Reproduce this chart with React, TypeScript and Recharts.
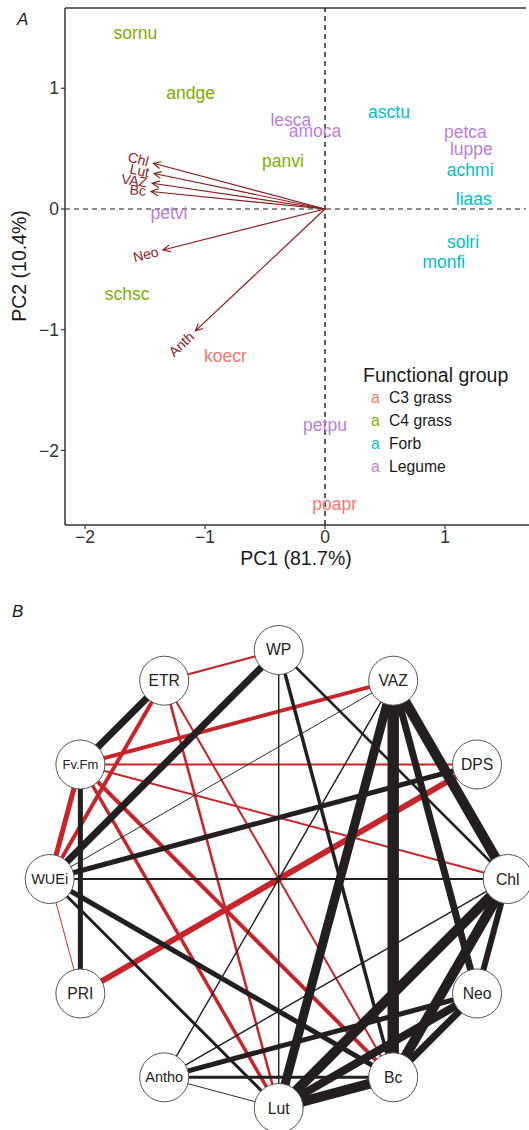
import React from 'react';
import { ScatterChart, Scatter, XAxis, YAxis, ReferenceLine, Legend, Label } from 'recharts';

const FONT = '"Liberation Sans", Arial, Helvetica, sans-serif';

// ---------- Panel A data ----------
const speciesNames = ['sornu', 'andge', 'lesca', 'amoca', 'panvi', 'asctu', 'petca', 'luppe', 'achmi', 'liaas', 'solri', 'monfi', 'petvi', 'schsc', 'koecr', 'petpu', 'poapr'];
const speciesPC1 = [-1.58, -1.12, -0.285, -0.083, -0.35, 0.533, 1.17, 1.22, 1.21, 1.24, 1.15, 0.99, -1.3, -1.65, -0.83, 0.0, 0.08];
const speciesPC2 = [1.46, 0.965, 0.737, 0.646, 0.4, 0.806, 0.64, 0.497, 0.323, 0.083, -0.27, -0.44, -0.03, -0.7, -1.22, -1.79, -2.44];
const speciesGroup = ['C4 grass', 'C4 grass', 'Legume', 'Legume', 'C4 grass', 'Forb', 'Legume', 'Legume', 'Forb', 'Forb', 'Forb', 'Forb', 'Legume', 'C4 grass', 'C3 grass', 'Legume', 'C3 grass'];

const groupNames = ['C3 grass', 'C4 grass', 'Forb', 'Legume'];
const groupColors = ['#F8766D', '#7CAE00', '#00BFC4', '#B87FD8'];

const loadingNames = ['Chl', 'Lut', 'VAZ', 'Bc', 'Neo', 'Anth'];
const loadingPC1 = [-1.43, -1.425, -1.44, -1.45, -1.35, -1.08];
const loadingPC2 = [0.379, 0.294, 0.213, 0.145, -0.34, -1.01];

const xTicksA = [-2, -1, 0, 1];
const yTicksA = [-2, -1, 0, 1];

// ---------- Panel B data ----------
const nodeNames = ['WP', 'VAZ', 'DPS', 'Chl', 'Neo', 'Bc', 'Lut', 'Antho', 'PRI', 'WUEi', 'Fv.Fm', 'ETR'];
const nodeX = [0, 0.5, 0.866, 1, 0.866, 0.5, 0, -0.5, -0.866, -1, -0.866, -0.5];
const nodeY = [1, 0.866, 0.5, 0, -0.5, -0.866, -1, -0.866, -0.5, 0, 0.5, 0.866];

const edgeFrom = ['ETR', 'WP', 'ETR', 'ETR', 'ETR', 'ETR', 'WP', 'WP', 'WP', 'VAZ', 'VAZ', 'VAZ', 'VAZ', 'VAZ', 'VAZ', 'VAZ', 'Fv.Fm', 'Fv.Fm', 'Fv.Fm', 'Fv.Fm', 'Fv.Fm', 'Fv.Fm', 'WUEi', 'DPS', 'WUEi', 'WUEi', 'WUEi', 'WUEi', 'Chl', 'Chl', 'Chl', 'Chl', 'Neo', 'Neo', 'Neo', 'Antho', 'Antho', 'Lut'];
const edgeTo = ['WP', 'WUEi', 'Fv.Fm', 'WUEi', 'Lut', 'Bc', 'Lut', 'Bc', 'Chl', 'Fv.Fm', 'WUEi', 'Antho', 'Lut', 'Bc', 'Neo', 'Chl', 'DPS', 'Chl', 'WUEi', 'PRI', 'Lut', 'Bc', 'DPS', 'PRI', 'Chl', 'PRI', 'Bc', 'Lut', 'Antho', 'Lut', 'Bc', 'Neo', 'Antho', 'Lut', 'Bc', 'Bc', 'Lut', 'Bc'];
const edgeWeight = [-0.17, 0.58, 0.58, -0.33, -0.21, -0.17, 0.12, 0.29, 0.21, -0.33, 0.08, 0.12, 0.75, 0.95, 0.58, 0.85, -0.17, -0.17, -0.42, 0.42, -0.29, -0.33, 0.42, -0.5, 0.17, -0.08, 0.42, 0.25, 0.12, 0.83, 0.83, 0.5, 0.42, 0.67, 0.58, 0.25, 0.08, 0.83];

// ---------- Layout constants ----------
const A_W = 529;
const A_H = 575;
const A_TOP = 8;
const A_YAXIS_W = 65;
const A_XAXIS_H = 50;
const xDomA: [number, number] = [-2.167, 1.7];
const yDomA: [number, number] = [-2.618, 1.665];
const KX = (A_W - A_YAXIS_W) / (xDomA[1] - xDomA[0]);
const KY = (A_H - A_TOP - A_XAXIS_H) / (yDomA[1] - yDomA[0]);

const B_TOP = 590;
const B_W = 529;
const B_H = 540;
const xDomB: [number, number] = [-1.217, 1.093];
const yDomB: [number, number] = [-1.096, 1.262];

const ARROW_COLOR = '#8b1c1c';
const RED = '#c8242b';
const BLACK = '#231f20';

const fmtMinus = (v: number) => String(v).replace('-', '\u2212');

const SpeciesLabel = (color: string) => (props: any) => {
  const { cx, cy, payload } = props;
  if (cx == null || cy == null) return <g />;
  return (
    <text x={cx} y={cy} dy="0.35em" textAnchor="middle" fill={color} fontSize={17.5} fontFamily={FONT}>
      {payload.name}
    </text>
  );
};

const ArrowTip = (props: any) => {
  const { cx, cy, payload } = props;
  if (!payload || !payload.tip || cx == null) return <g />;
  const dx = payload.x * KX;
  const dy = -payload.y * KY;
  const len = Math.hypot(dx, dy);
  const ux = dx / len;
  const uy = dy / len;
  const ang = Math.atan2(dy, dx);
  const head = 8;
  const spread = Math.PI / 7;
  const back = ang + Math.PI;
  const p1x = cx + head * Math.cos(back + spread);
  const p1y = cy + head * Math.sin(back + spread);
  const p2x = cx + head * Math.cos(back - spread);
  const p2y = cy + head * Math.sin(back - spread);
  let rot = (ang * 180) / Math.PI + 180;
  while (rot > 90) rot -= 360;
  while (rot <= -90) rot += 360;
  const lx = cx + ux * 5;
  const ly = cy + uy * 5;
  return (
    <g>
      <path d={`M${p1x},${p1y}L${cx},${cy}L${p2x},${p2y}`} fill="none" stroke={ARROW_COLOR} strokeWidth={1.2} />
      <text
        x={lx}
        y={ly}
        dy="0.35em"
        textAnchor="end"
        transform={`rotate(${rot} ${lx} ${ly})`}
        fill={ARROW_COLOR}
        fontSize={14}
        fontFamily={FONT}
      >
        {payload.name}
      </text>
    </g>
  );
};

const LegendBox = () => (
  <div style={{ fontFamily: FONT, color: '#1a1a1a' }}>
    <div style={{ fontSize: 19.5, lineHeight: '24px', whiteSpace: 'nowrap' }}>Functional group</div>
    {groupNames.map((g, i) => (
      <div key={g} style={{ display: 'flex', alignItems: 'center', height: 22.8, fontSize: 15.7, whiteSpace: 'nowrap' }}>
        <span style={{ color: groupColors[i], width: 18, marginLeft: 8, display: 'inline-block' }}>a</span>
        <span>{g}</span>
      </div>
    ))}
  </div>
);

const Empty = () => <g />;

const NodeShape = (props: any) => {
  const { cx, cy, payload } = props;
  if (cx == null) return <g />;
  const name: string = payload.name;
  const fs = name.includes('.') ? 13 : name.length >= 4 ? 14.5 : 15.7;
  return (
    <g>
      <circle cx={cx} cy={cy} r={24.5} fill="#ffffff" stroke="#555555" strokeWidth={1} />
      <text x={cx} y={cy} dy="0.35em" textAnchor="middle" fontSize={fs} fontFamily={FONT} fill="#222222">
        {name}
      </text>
    </g>
  );
};

function PanelA() {
  const byGroup = groupNames.map((g) =>
    speciesNames
      .map((name, i) => ({ name, x: speciesPC1[i], y: speciesPC2[i], group: speciesGroup[i] }))
      .filter((d) => d.group === g)
  );
  const arrows = loadingNames.map((name, i) => [
    { x: 0, y: 0, name, tip: false },
    { x: loadingPC1[i], y: loadingPC2[i], name, tip: true },
  ]);
  return (
    <ScatterChart width={A_W} height={A_H} margin={{ top: A_TOP, right: 0, bottom: 0, left: 0 }}>
      <XAxis
        type="number"
        dataKey="x"
        domain={xDomA}
        ticks={xTicksA}
        allowDataOverflow
        height={A_XAXIS_H}
        tickSize={4}
        tickMargin={2}
        tickFormatter={fmtMinus}
        axisLine={{ stroke: '#333333', strokeWidth: 1.5 }}
        tickLine={{ stroke: '#333333', strokeWidth: 1.2 }}
        tick={{ fill: '#333333', fontSize: 17.5, fontFamily: FONT }}
      >
        <Label
          content={() => (
            <text x={296} y={558} dy="0.35em" textAnchor="middle" fontSize={19.5} fontFamily={FONT} fill="#1a1a1a">
              PC1 (81.7%)
            </text>
          )}
        />
      </XAxis>
      <YAxis
        type="number"
        dataKey="y"
        domain={yDomA}
        ticks={yTicksA}
        allowDataOverflow
        width={A_YAXIS_W}
        tickSize={4}
        tickMargin={2}
        tickFormatter={fmtMinus}
        axisLine={{ stroke: '#333333', strokeWidth: 1.5 }}
        tickLine={{ stroke: '#333333', strokeWidth: 1.2 }}
        tick={{ fill: '#333333', fontSize: 17.5, fontFamily: FONT }}
      >
        <Label
          content={() => (
            <text
              x={19}
              y={266}
              dy="0.35em"
              textAnchor="middle"
              transform="rotate(-90 19 266)"
              fontSize={19.5}
              fontFamily={FONT}
              fill="#1a1a1a"
            >
              PC2 (10.4%)
            </text>
          )}
        />
      </YAxis>
      <ReferenceLine
        segment={[
          { x: xDomA[0], y: yDomA[1] },
          { x: 1.675, y: yDomA[1] },
        ]}
        stroke="#333333"
        strokeWidth={1.5}
        ifOverflow="visible"
      />
      <ReferenceLine x={0} stroke="#1a1a1a" strokeWidth={1.4} strokeDasharray="5 4" />
      <ReferenceLine
        segment={[
          { x: xDomA[0], y: 0 },
          { x: 1.675, y: 0 },
        ]}
        stroke="#1a1a1a"
        strokeWidth={1.2}
        strokeDasharray="5 4"
      />
      {arrows.map((d, i) => (
        <Scatter
          key={'arr' + i}
          data={d}
          fill={ARROW_COLOR}
          line={{ stroke: ARROW_COLOR, strokeWidth: 1.2 }}
          shape={ArrowTip}
          isAnimationActive={false}
          legendType="none"
        />
      ))}
      {byGroup.map((d, i) => (
        <Scatter
          key={groupNames[i]}
          name={groupNames[i]}
          data={d}
          fill={groupColors[i]}
          shape={SpeciesLabel(groupColors[i])}
          isAnimationActive={false}
        />
      ))}
      <Legend
        layout="vertical"
        align="center"
        verticalAlign="middle"
        wrapperStyle={{ position: 'absolute', left: 363, top: 363, width: 166, height: 120 }}
        content={() => <LegendBox />}
      />
    </ScatterChart>
  );
}

function PanelB() {
  const idx = (n: string) => nodeNames.indexOf(n);
  const edges = edgeFrom.map((f, i) => {
    const a = idx(f);
    const b = idx(edgeTo[i]);
    return {
      key: f + '-' + edgeTo[i],
      w: edgeWeight[i],
      data: [
        { x: nodeX[a], y: nodeY[a] },
        { x: nodeX[b], y: nodeY[b] },
      ],
    };
  });
  const ordered = [...edges.filter((e) => e.w < 0), ...edges.filter((e) => e.w >= 0)];
  const nodes = nodeNames.map((name, i) => ({ name, x: nodeX[i], y: nodeY[i] }));
  return (
    <ScatterChart width={B_W} height={B_H} margin={{ top: 0, right: 0, bottom: 0, left: 0 }}>
      <XAxis type="number" dataKey="x" domain={xDomB} hide allowDataOverflow />
      <YAxis type="number" dataKey="y" domain={yDomB} hide allowDataOverflow />
      {ordered.map((e) => (
        <Scatter
          key={e.key}
          data={e.data}
          fill={e.w < 0 ? RED : BLACK}
          line={{ stroke: e.w < 0 ? RED : BLACK, strokeWidth: Math.abs(e.w) * 12 }}
          shape={Empty}
          isAnimationActive={false}
          legendType="none"
        />
      ))}
      <Scatter data={nodes} fill="#ffffff" shape={NodeShape} isAnimationActive={false} legendType="none" />
    </ScatterChart>
  );
}

export default function App() {
  return (
    <div style={{ position: 'absolute', left: 0, top: 0, width: 529, height: 1130, overflow: 'hidden', background: '#ffffff' }}>
      <div style={{ position: 'absolute', left: 0, top: 0 }}>
        <PanelA />
      </div>
      <div style={{ position: 'absolute', left: 17, top: 10, fontFamily: FONT, fontStyle: 'italic', fontSize: 17, lineHeight: '20px', color: '#1a1a1a' }}>
        A
      </div>
      <div style={{ position: 'absolute', left: 0, top: B_TOP }}>
        <PanelB />
      </div>
      <div style={{ position: 'absolute', left: 12, top: 602, fontFamily: FONT, fontStyle: 'italic', fontSize: 17, lineHeight: '20px', color: '#1a1a1a' }}>
        B
      </div>
    </div>
  );
}
